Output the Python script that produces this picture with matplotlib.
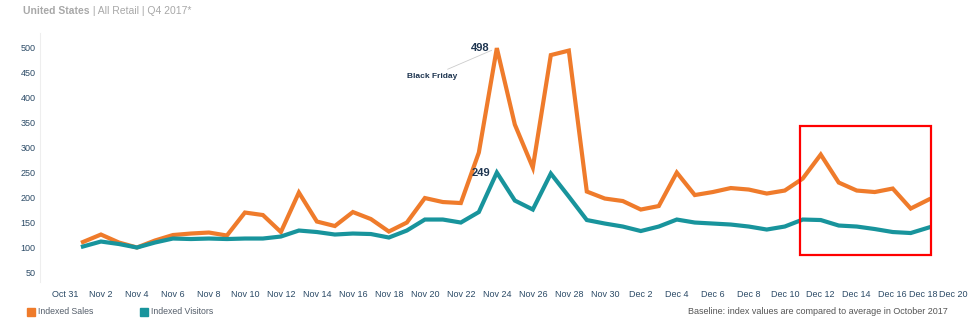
import pandas as pd
import matplotlib.pyplot as plt
import matplotlib.dates as mdates
import matplotlib.transforms as mtransforms
from matplotlib.patches import Rectangle

dates = pd.date_range("2017-11-01", "2017-12-18", freq="D")

indexed_sales = [
    110, 125, 109, 99, 113, 124, 127, 129, 123, 169,
    164, 130, 209, 151, 142, 170, 156, 131, 149, 198,
    190, 188, 289, 498, 345, 259, 484, 493, 211, 197,
    192, 175, 182, 249, 204, 210, 218, 215, 207, 213,
    237, 285, 229, 213, 210, 217, 177, 195,
]
indexed_visitors = [
    101, 111, 106, 99, 109, 117, 116, 117, 116, 117,
    117, 121, 133, 130, 125, 127, 126, 119, 133, 155,
    155, 149, 170, 249, 193, 175, 247, 201, 154, 147,
    141, 132, 141, 155, 149, 147, 145, 141, 135, 141,
    155, 154, 143, 141, 136, 130, 128, 139,
]

yticks = [50, 100, 150, 200, 250, 300, 350, 400, 450, 500]
xticks = pd.date_range("2017-10-31", "2017-12-20", freq="2D")

# highlight box (days after Nov 1, index units)
box_x = (39.83, 47.1)
box_y = (84, 342)

ORANGE = "#ef7b2b"
TEAL = "#18949c"
NAVY = "#2b4a66"
FONT = "Liberation Sans"


def main():
    plt.rcParams["font.family"] = [FONT, "DejaVu Sans"]
    fig = plt.figure(figsize=(9.74, 3.31), dpi=100)
    ax = fig.add_axes([0.041, 0.148, 0.955, 0.752])

    ax.plot(dates, indexed_sales, color=ORANGE, lw=3, solid_joinstyle="miter", zorder=3)
    ax.plot(dates, indexed_visitors, color=TEAL, lw=3, solid_joinstyle="miter", zorder=3)

    ax.set_ylim(30, 528)
    ax.set_xlim(mdates.date2num(dates[0]) - 2.39, mdates.date2num(dates[0]) + 49.3)
    ax.set_yticks(yticks)
    ax.set_xticks(xticks)
    ax.xaxis.set_major_formatter(mdates.DateFormatter("%b %-d"))
    ax.tick_params(axis="both", length=0, labelsize=6.5, labelcolor=NAVY)
    ax.tick_params(axis="x", pad=6)
    ax.tick_params(axis="y", pad=3)

    # the last two labels are squeezed in at the right edge
    labels = ax.get_xticklabels()
    shift = mtransforms.ScaledTranslation(-5 / 100, 0, fig.dpi_scale_trans)
    labels[-2].set_transform(labels[-2].get_transform() + shift)
    labels[-1].set_horizontalalignment("right")
    shift2 = mtransforms.ScaledTranslation(3 / 100, 0, fig.dpi_scale_trans)
    labels[-1].set_transform(labels[-1].get_transform() + shift2)

    for side in ["top", "right", "bottom"]:
        ax.spines[side].set_visible(False)
    ax.spines["left"].set_color("#eeeeee")
    ax.spines["left"].set_linewidth(0.8)

    # peak labels
    peak = dates[23]
    ax.annotate("498", xy=(peak, 498), xytext=(-7, 0), textcoords="offset pixels",
                ha="right", va="center", fontsize=8, fontweight="bold", color="#1e3550")
    ax.annotate("249", xy=(peak, 249), xytext=(-7, 0), textcoords="offset pixels",
                ha="right", va="center", fontsize=8, fontweight="bold", color="#1e3550")
    ax.annotate("Black Friday", xy=(peak, 498), xytext=(-40, -28), textcoords="offset pixels",
                ha="right", va="center", fontsize=6, fontweight="bold", color="#1e3550",
                arrowprops=dict(arrowstyle="-", color="#cccccc", lw=0.6, shrinkA=1, shrinkB=4))

    # red highlight box
    x0 = mdates.date2num(dates[0])
    ax.add_patch(Rectangle((x0 + box_x[0], box_y[0]), box_x[1] - box_x[0], box_y[1] - box_y[0],
                           fill=False, edgecolor="#ff0000", lw=1.6, zorder=4))

    # title: bold country, then the rest right after it
    t1 = fig.text(0.024, 0.968, "United States", fontsize=7.5, fontweight="bold", color="#a8a8a8",
                  va="center", ha="left")
    ax.annotate(" | All Retail | Q4 2017*", xy=(1, 0.5), xycoords=t1, va="center", ha="left",
                fontsize=7.5, color="#a8a8a8", annotation_clip=False)

    # legend
    fig.patches.append(Rectangle((27 / 974, 1 - 316 / 331), 8 / 974, 8 / 331,
                                 transform=fig.transFigure, color=ORANGE))
    fig.text(38 / 974, 1 - 312 / 331, "Indexed Sales", fontsize=6.3, color="#555f6b", va="center")
    fig.patches.append(Rectangle((140 / 974, 1 - 316 / 331), 8 / 974, 8 / 331,
                                 transform=fig.transFigure, color=TEAL))
    fig.text(151 / 974, 1 - 312 / 331, "Indexed Visitors", fontsize=6.3, color="#555f6b", va="center")
    fig.text(948 / 974, 1 - 312 / 331, "Baseline: index values are compared to average in October 2017",
             fontsize=6.5, color="#555555", va="center", ha="right")

    fig.savefig("out.png", dpi=100)


if __name__ == "__main__":
    main()
